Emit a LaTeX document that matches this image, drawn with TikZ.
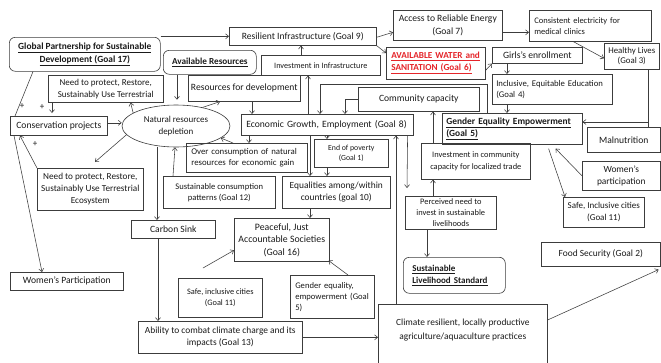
\documentclass[tikz,border=0pt]{standalone}
\usepackage{fontspec}
\setmainfont{Carlito}
\usetikzlibrary{arrows.meta,shapes.geometric}
\definecolor{lc}{HTML}{3C3C3C}
\definecolor{tc}{HTML}{1A1A1A}
\definecolor{rd}{HTML}{E5252A}
\newcommand\fz[2]{\fontsize{#1}{#2}\selectfont}
\hyphenpenalty=10000
\tikzset{
  bx/.style={draw=lc, line width=0.6pt, inner xsep=2pt, inner ysep=1pt, anchor=north west, align=center, text=tc, font=\fz{9.6}{12}},
  rbx/.style={bx, rounded corners=6pt},
  arr/.style={draw=lc, line width=0.55pt, -{Straight Barb[length=3pt,width=5pt]}},
  ln/.style={draw=lc, line width=0.55pt},
  pl/.style={font=\fz{9}{10}, text=tc, inner sep=0pt}
}
\begin{document}
\begin{tikzpicture}[x=1pt,y=-1pt]
\useasboundingbox[fill=white] (0,0) rectangle (661,362);
% top row
\node[rbx, minimum width=151pt, minimum height=34pt, font={\bfseries\fz{9.4}{13}}] (gp) at (9,37) {\underline{Global Partnership for Sustainable}\\\underline{Development (Goal 17)}};
\node[bx, minimum width=147pt, minimum height=18pt] (ri) at (229,27) {Resilient Infrastructure (Goal 9)};
\node[bx, minimum width=109pt, minimum height=30pt, font={\fz{9.6}{12.5}}] (ae) at (393,10) {Access to Reliable Energy\\(Goal 7)};
\node[bx, inner xsep=5pt, text width=112pt, minimum height=31pt, align=left, font={\fz{8.5}{11}}] (ce) at (529,10) {Consistent electricity for\\medical clinics};
\node[bx, inner xsep=5pt, text width=89pt, minimum height=32pt, align=left, text=rd, font={\bfseries\fz{9.2}{12}}] (aw) at (386,47) {\underline{AVAILABLE WATER and}\\\underline{SANITATION (Goal 6)}};
\node[bx, minimum width=90pt, minimum height=16pt] (girls) at (492,47) {Girls’s enrollment};
\node[bx, minimum width=55pt, minimum height=26pt, font={\fz{8.8}{10.5}}] (hl) at (604,43) {Healthy Lives\\(Goal 3)};
\node[bx, inner xsep=4pt, text width=112pt, minimum height=30pt, align=left, font={\fz{8.7}{11}}] (ie) at (492,74) {Inclusive, Equitable Education\\(Goal 4)};
\node[bx, inner xsep=4pt, text width=132pt, minimum height=31pt, align=left, font={\bfseries\fz{9.4}{12}}] (gee) at (442,113) {\underline{Gender Equality Empowerment}\\\underline{(Goal 5)}};
\node[bx, minimum width=73pt, minimum height=25pt] (mal) at (587,127) {Malnutrition};
\node[bx, minimum width=78pt, minimum height=29pt, font={\fz{9.4}{12}}] (wp) at (582,161) {Women’s\\participation};
\node[bx, minimum width=81pt, minimum height=30pt, font={\fz{9}{12}}] (sic) at (563,197) {Safe, Inclusive cities\\(Goal 11)};
\node[bx, minimum width=119pt, minimum height=24pt, font={\fz{9.4}{12}}] (fs) at (541,242) {Food Security (Goal 2)};
\node[bx, minimum width=169pt, minimum height=71pt, label={[anchor=north, yshift=-11pt, align=center, text=tc, font={\fz{9.4}{14}}]north:Climate resilient, locally productive\\agriculture/aquaculture practices}] (cr) at (378,304) {};
\node[bx, minimum width=164pt, minimum height=32pt, font={\fz{9.4}{12}}] (ac) at (138,321) {Ability to combat climate charge and its\\impacts (Goal 13)};
\node[bx, minimum width=113pt, minimum height=18pt] (wpl) at (10,272) {Women’s Participation};
% left cluster
\node[bx, minimum width=115pt, minimum height=27pt, font={\fz{9}{12}}] (np1) at (48,75) {Need to protect, Restore,\\Sustainably Use Terrestrial};
\node[bx, minimum width=97pt, minimum height=19pt] (cp) at (10,116) {Conservation projects};
\node[draw=lc, line width=0.6pt, ellipse, minimum width=108pt, minimum height=42pt, inner sep=0pt, align=center, text=tc, font={\fz{9}{12}}] (nrd) at (176,126) {Natural resources\\depletion};
\node[bx, minimum width=106pt, minimum height=42pt, font={\fz{9.2}{12}}] (np2) at (37,168) {Need to protect, Restore,\\Sustainably Use Terrestrial\\Ecosystem};
\node[rbx, minimum width=93pt, minimum height=24pt, font={\bfseries\fz{9.2}{12}}] (ar) at (163,50) {\underline{Available Resources}};
\node[bx, minimum width=112pt, minimum height=26pt] (rdv) at (188,75) {Resources for development};
\node[bx, minimum width=119pt, minimum height=20pt, font={\fz{8.2}{10}}] (ii) at (261,55) {Investment in Infrastructure};
\node[bx, inner xsep=5pt, text width=162pt, minimum height=21pt, align=left] (eg) at (241,114) {Economic Growth, Employment (Goal 8)};
\node[bx, minimum width=121pt, minimum height=24pt] (cc) at (358,87) {Community capacity};
\node[bx, inner xsep=5pt, text width=111pt, minimum height=29pt, align=left, font={\fz{8.8}{10.5}}] (oc) at (186,143) {Over consumption of natural\\resources for economic gain};
\node[bx, minimum width=74pt, minimum height=28pt, font={\fz{7.8}{9.5}}] (ep) at (314,139) {End of poverty\\(Goal 1)};
\node[bx, minimum width=108pt, minimum height=32pt, font={\fz{9.4}{12}}] (eq) at (282,176) {Equalities among/within\\countries (goal 10)};
\node[bx, minimum width=95pt, minimum height=43pt, font={\fz{9.8}{12.5}}] (ps) at (234,218) {Peaceful, Just\\Accountable Societies\\(Goal 16)};
\node[bx, minimum width=84pt, minimum height=39pt, font={\fz{8.3}{10.5}}] (sil) at (178,278) {Safe, inclusive cities\\(Goal 11)};
\node[bx, inner xsep=5pt, text width=74pt, minimum height=43pt, align=left, font={\fz{8.6}{11}}] (gsm) at (290,275) {Gender equality,\\empowerment (Goal\\5)};
\node[bx, minimum width=84pt, minimum height=18pt] (cs) at (131,220) {Carbon Sink};
\node[bx, minimum width=112pt, minimum height=32pt, font={\fz{8.6}{11}}] (sc) at (163,176) {Sustainable consumption\\patterns (Goal 12)};
\node[bx, minimum width=109pt, minimum height=36pt, font={\fz{8.4}{12}}] (icc) at (421,143) {Investment in community\\capacity for localized trade};
\node[bx, minimum width=91pt, minimum height=33pt, font={\fz{8.4}{11}}] (pn) at (405,196) {Perceived need to\\invest in sustainable\\livelihoods};
\node[rbx, inner xsep=9pt, text width=84pt, minimum height=36pt, align=left, font={\bfseries\fz{9}{12}}] (sls) at (403,257) {\underline{Sustainable}\\\underline{Livelihood Standard}};
% plus signs
\node[pl] (p1) at (22,106) {+};
\node[pl] (p2) at (42,107) {+};
\node[pl] (p3) at (35,144) {+};
% connectors
\draw[arr] (gp.east |- ri.west) -- (ri.west);
\draw[arr] ([yshift=-1pt]ri.east) -- ([yshift=-7pt]ae.west);
\draw[arr] (ri.south east) -- ([yshift=-6pt]aw.north west);
\draw[arr] ([yshift=-7pt]ae.east) -- ([yshift=-7pt]ae.east -| ce.west);
\draw[arr] ([xshift=-17pt]ce.south) -- ([yshift=-2pt]hl.west);
\draw[arr] ([yshift=-7pt]aw.east) -- (girls.south west);
\draw[arr] ([xshift=15pt]girls.south west) -- ([xshift=15pt]ie.north west);
\draw[arr] ([xshift=15pt]ie.south west) -- ([xshift=15pt]ie.south west |- gee.north);
\draw[ln] ([xshift=-11pt]hl.south east) -- ([xshift=-11pt]hl.south east |- mal.north);
\coordinate (j1) at (648,122);
\draw[arr] (j1) -- (j1 -| gee.east);
\draw[arr] (wp.west) -- ([xshift=-27pt,yshift=-4pt]gee.south east);
\draw[arr] ([xshift=-34pt,yshift=-4pt]gee.south east) -- ([xshift=2pt]sic.north west);
\draw[arr] ([xshift=12pt]icc.north west) -- ([xshift=12pt]icc.north west |- cc.south);
\draw[arr] ([xshift=28pt]pn.north west) -- ([xshift=28pt]pn.north west |- icc.south);
\draw[arr] ([xshift=22pt]pn.south west) -- ([xshift=22pt]pn.south west |- sls.north);
\draw[arr] ([xshift=-6pt]eg.south east) -- ([xshift=2pt,yshift=8pt]pn.north west);
\draw[arr] ([xshift=18pt]cr.north west) -- ([xshift=18pt]cr.north west |- eg.south);
\draw[arr] (cc.west) -| ([xshift=104pt]eg.north west);
\draw[arr] ([xshift=45pt]gee.north west) -- ([xshift=45pt,yshift=29pt]gee.north west) -| ([xshift=79pt]eg.north west);
\draw[arr] ([xshift=40pt]ii.north west) -- ([xshift=40pt]ii.north west |- ri.south);
\draw[arr] ([xshift=67pt]eg.north west) -- ([xshift=67pt]eg.north west |- ii.south);
\draw[arr] ([xshift=64pt]rdv.south west) -- ([xshift=64pt]rdv.south west |- eg.north);
\draw[arr] (nrd.35) -- ([xshift=32pt]rdv.south west);
\draw[arr, shorten >=5pt] ([xshift=14pt]ar.south west) -- ([xshift=14pt]ar.south west |- nrd.north);
\draw[arr] (nrd.163) -- ([xshift=-33pt]np1.south east);
\draw[arr] ([yshift=3pt]cp.east) -- ([yshift=3pt]cp.east -| nrd.west);
\draw[arr] (nrd.190) -- ([xshift=58pt,yshift=6pt]np2.north west);
\draw[arr] (np2.north west) -- ([xshift=10pt]cp.south west);
\draw[ln] ([xshift=24pt]gp.south west) -- ([xshift=5pt]cp.north west);
\draw[arr, shorten >=3pt] ([xshift=4pt]np1.south west) -- ([xshift=4pt]np1.south west |- cp.north);
\draw[arr] ([xshift=4pt]cp.south west) -- ([xshift=32pt]wpl.north west);
\draw[arr] ([xshift=26pt]cs.north west |- nrd.south) -- ([xshift=26pt]cs.north west);
\draw[arr] ([xshift=27pt]cs.south west) -- ([xshift=27pt]cs.south west |- ac.north);
\draw[arr] ([xshift=10pt]sc.north west) -- ([xshift=-1pt]nrd.south);
\draw[arr] ([xshift=47pt]oc.north west) -- (nrd.-15);
\draw[arr] ([xshift=8pt]eg.south west) -- ([xshift=8pt]eg.south west |- oc.north);
\draw[arr] ([xshift=86pt]eg.south west) -- ([xshift=86pt]eg.south west |- ep.north);
\draw[arr] ([xshift=69pt]eg.south west) -- ([xshift=69pt]eg.south west |- eq.north);
\draw[arr] ([xshift=13pt]ep.south west) -- ([xshift=13pt]ep.south west |- eq.north);
\draw[arr] ([xshift=28pt]eq.south west) -- ([xshift=28pt]eq.south west |- ps.north);
\draw[arr] ([xshift=25pt,yshift=10pt]sil.north west) -- ([yshift=-10.5pt]ps.west);
\draw[arr] ([xshift=58pt]gsm.north west) -- ([xshift=-1pt,yshift=1pt]ps.south east);
\draw[arr] (ac.east) -- (ac.east -| cr.west);
\draw[arr] ([yshift=-16pt]cr.north east) -- ([xshift=-2pt,yshift=-3pt]fs.south east);
\end{tikzpicture}
\end{document}
